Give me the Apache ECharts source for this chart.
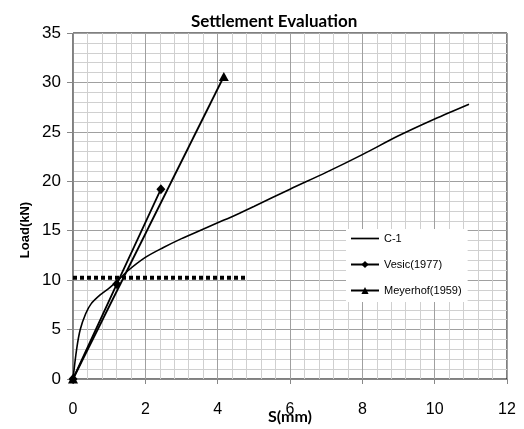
<!DOCTYPE html>
<html>
<head>
<meta charset="utf-8">
<script src="https://cdn.jsdelivr.net/npm/echarts@6/dist/echarts.min.js"></script>
<style>
  html, body { margin: 0; padding: 0; background: #fff; }
  #chart { width: 524px; height: 429px; }
</style>
</head>
<body>
<div id="chart"></div>
<script>
// 曲线数据 (S mm, Load kN)
var c1Data = [
  [0, 0], [0.1, 3.0], [0.2, 5.0], [0.35, 6.6], [0.5, 7.6], [0.75, 8.5],
  [1.0, 9.2], [1.25, 10.0], [1.5, 10.9], [2.0, 12.3], [2.5, 13.3],
  [3.0, 14.2], [3.5, 15.0], [4.0, 15.8], [4.5, 16.6], [5.0, 17.45],
  [6.0, 19.2], [7.0, 20.9], [8.0, 22.7], [9.0, 24.6], [10.0, 26.3], [10.95, 27.8]
];
var vesicData = [[0, 0], [1.21, 9.6], [2.43, 19.2]];
var meyerhofData = [[0, 0], [4.17, 30.6]];
var limitLine = [[0, 10.25], [4.8, 10.25]];
var legendNames = ["C-1", "Vesic(1977)", "Meyerhof(1959)"];

var chart = echarts.init(document.getElementById("chart"));
chart.setOption({
  animation: false,
  backgroundColor: "#fff",
  textStyle: { fontFamily: "Liberation Sans", color: "#000" },
  title: {
    text: "Settlement Evaluation",
    left: 186,
    top: 8,
    textStyle: { fontFamily: "Lato", fontWeight: "bold", fontSize: 17, color: "#000" }
  },
  // y 轴标题 (位置偏下)
  graphic: [{
    type: "text",
    x: 25, y: 230,
    rotation: Math.PI / 2,
    style: {
      text: "Load(kN)",
      fontFamily: "Liberation Sans", fontWeight: "bold", fontSize: 13, fill: "#000",
      align: "center", verticalAlign: "middle"
    }
  }],
  grid: {
    left: 73, right: 17, top: 33, bottom: 50,
    outerBoundsMode: "none",
    show: true, borderColor: "#000", borderWidth: 1, backgroundColor: "#fff"
  },
  legend: {
    data: [
      { name: legendNames[0], icon: "path://M0,0H28V1.7H0Z" },
      legendNames[1],
      legendNames[2]
    ],
    orient: "vertical",
    left: 346,
    top: 229,
    itemWidth: 28,
    itemHeight: 9,
    itemGap: 15,
    padding: [4, 6, 6, 4],
    backgroundColor: "#fff",
    textStyle: { fontSize: 11, color: "#000", fontFamily: "Liberation Sans" }
  },
  xAxis: {
    type: "value", min: 0, max: 12, interval: 2,
    name: "S(mm)", nameLocation: "middle", nameGap: 30, nameMoveOverlap: false,
    nameTextStyle: { fontFamily: "Lato", fontWeight: "bold", fontSize: 16, color: "#000" },
    axisLine: { lineStyle: { color: "#888", width: 1 } },
    axisTick: { show: true, length: 5, lineStyle: { color: "#888" } },
    axisLabel: { fontSize: 16, color: "#000", margin: 23 },
    splitLine: { show: true, lineStyle: { color: "#a0a0a0", width: 1 } },
    minorTick: { show: false, splitNumber: 5 },
    minorSplitLine: { show: true, lineStyle: { color: "#d0d0d0", width: 1 } }
  },
  yAxis: {
    type: "value", min: 0, max: 35, interval: 5,
    axisLine: { show: true, lineStyle: { color: "#888", width: 1 } },
    axisTick: { show: true, length: 6, lineStyle: { color: "#888" } },
    axisLabel: { fontSize: 17, color: "#000", margin: 12 },
    splitLine: { show: true, lineStyle: { color: "#a0a0a0", width: 1 } },
    minorTick: { show: false, splitNumber: 5 },
    minorSplitLine: { show: true, lineStyle: { color: "#d0d0d0", width: 1 } }
  },
  series: [
    {
      name: "C-1", type: "line", data: c1Data, smooth: 0.3,
      symbol: "none",
      lineStyle: { color: "#000", width: 1.6 }, itemStyle: { color: "#000" }, z: 3
    },
    {
      name: "Vesic(1977)", type: "line", data: vesicData,
      symbol: "diamond", symbolSize: [9, 10], showSymbol: true,
      lineStyle: { color: "#000", width: 1.8 }, itemStyle: { color: "#000" }, z: 4
    },
    {
      name: "Meyerhof(1959)", type: "line", data: meyerhofData,
      symbol: "triangle", symbolSize: [10, 9], showSymbol: true,
      lineStyle: { color: "#000", width: 1.8 }, itemStyle: { color: "#000" }, z: 4
    },
    {
      name: "limit", type: "line", data: limitLine,
      symbol: "none",
      lineStyle: { color: "#000", width: 4, type: [4, 3], cap: "butt" }, z: 2
    }
  ]
});
</script>
</body>
</html>
